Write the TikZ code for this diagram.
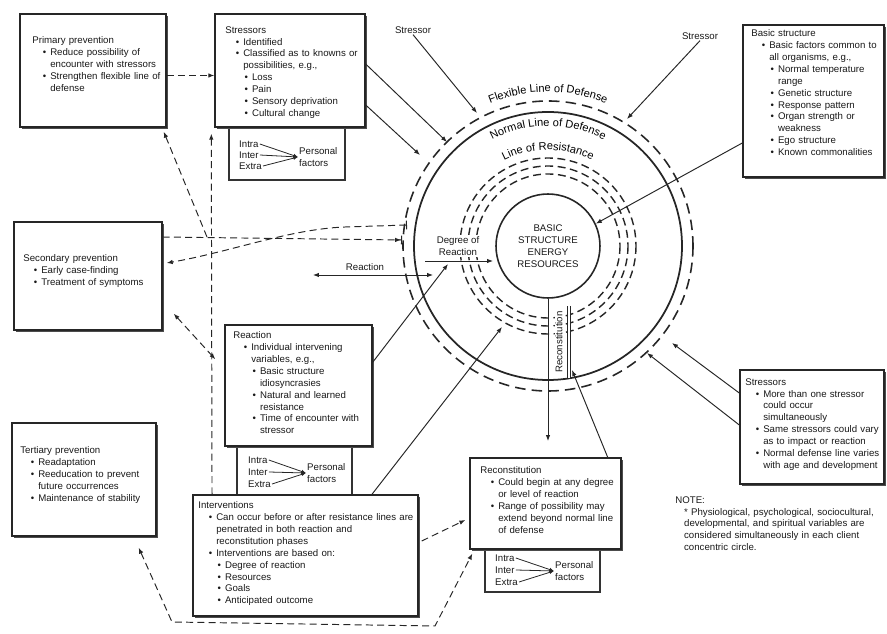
\documentclass[tikz,border=0pt]{standalone}
\usepackage{fontspec}
\setmainfont{Liberation Sans}
\usetikzlibrary{arrows.meta, shadows, fit, decorations.text}

\setlength{\parindent}{0pt}
\newcommand{\boxfont}{\fontsize{5.5}{6.8}\selectfont}
\newcommand{\ringfont}{\fontsize{6.3}{7}\selectfont}
\newcommand{\nextline}{\hfil\break}
\newcommand{\lvone}[1]{\par\leftskip=6pt\hangindent=4.2pt\hangafter=1\makebox[4.2pt][l]{\textbullet}#1}
\newcommand{\lvtwo}[1]{\par\leftskip=11pt\hangindent=4.2pt\hangafter=1\makebox[4.2pt][l]{\textbullet}#1}

\begin{document}
\begin{tikzpicture}[x=0.02cm, y=-0.02cm, >={Latex[length=3.4pt,width=2.6pt]},
  panel/.style={draw=black!85, line width=0.8pt, fill=white, inner sep=0pt, drop shadow={shadow xshift=1.4pt, shadow yshift=-1.4pt, fill=black!70, opacity=1}},
  factor panel/.style={draw=black!80, line width=0.7pt, fill=white, inner sep=0pt},
  box text/.style={anchor=north west, align=left, inner sep=0pt, text=black!90, font=\boxfont},
  tag/.style={inner sep=0.5pt, text=black!90, font=\boxfont},
  hit/.style={draw=black!85, line width=0.55pt, ->},
  flow/.style={hit, dash pattern=on 4pt off 2.4pt},
  factor arrow/.style={draw=black!85, line width=0.45pt, -{Latex[length=2.6pt,width=2pt]}},
  flexible ring/.style={draw=black!85, line width=0.9pt, dash pattern=on 6pt off 3.5pt},
  resistance ring/.style={draw=black!85, line width=0.8pt, dash pattern=on 4.5pt off 2.6pt},
  ring label/.style={decorate, decoration={text along path, text align=center, text={|\ringfont|#1}}}]
\useasboundingbox (0,0) rectangle (887,634);

% rings round the core
\coordinate (hub) at (548,246);
\draw[flexible ring] (hub) circle[radius=145];
\draw[draw=black!85, line width=1pt] (hub) circle[radius=134];
\foreach \r in {88,80,72}
  \draw[resistance ring] (hub) circle[radius=\r];
\node[circle, draw=black!85, line width=0.9pt, fill=white, minimum size=2.08cm, inner sep=0pt, align=center, font=\boxfont, text=black!90] (core) at (hub) {BASIC\\STRUCTURE\\ENERGY\\RESOURCES};

\path[ring label=Flexible Line of Defense] ([shift={(200:154)}]hub) arc[start angle=200, end angle=340, radius=154];
\path[ring label=Normal Line of Defense] ([shift={(205:120)}]hub) arc[start angle=205, end angle=335, radius=120];
\path[ring label=Line of Resistance] ([shift={(210:96)}]hub) arc[start angle=210, end angle=330, radius=96];

\node[tag, align=center, fill=white, inner sep=1pt] (degree) at (458,246) {Degree of\\Reaction};
\node[tag] (reaction tag) at (365,267) {Reaction};
\node[tag, rotate=90, fill=white] (recon label) at (559,342) {Reconstitution};
\draw[draw=black!85, line width=0.5pt, double distance=1.6pt] (569,306) -- (569,378);

\node[tag] (stressor a) at (413,30) {Stressor};
\node[tag] (stressor b) at (700,36) {Stressor};

% boxes
\node[panel, fit={(20,14) (166,127)}] (primary box) {};
\node[box text, text width=2.7cm] (primary text) at (32,36) {Primary prevention
\lvone{Reduce possibility of\nextline encounter with stressors}
\lvone{Strengthen flexible line of\nextline defense}\par};

\node[factor panel, fit={(229,120) (345,180)}] (stressor factors) {};
\node[panel, fit={(215,14) (365,127)}] (stressor box) {};
\node[box text, text width=2.8cm] (stressor text) at (225,26) {Stressors
\lvone{Identified}
\lvone{Classified as to knowns or\nextline possibilities, e.g.,}
\lvtwo{Loss}
\lvtwo{Pain}
\lvtwo{Sensory deprivation}
\lvtwo{Cultural change}\par};
\node[tag, anchor=west] (s intra) at (238,144) {Intra};
\node[tag, anchor=west] (s inter) at (238,155) {Inter};
\node[tag, anchor=west] (s extra) at (238,166) {Extra};
\node[tag, anchor=west, align=left] (s personal) at (298,157) {Personal\\factors};

\node[panel, fit={(743,25) (884,177)}] (basic box) {};
\node[box text, text width=2.6cm] (basic text) at (751,29) {Basic structure
\lvone{Basic factors common to\nextline all organisms, e.g.,}
\lvtwo{Normal temperature\nextline range}
\lvtwo{Genetic structure}
\lvtwo{Response pattern}
\lvtwo{Organ strength or\nextline weakness}
\lvtwo{Ego structure}
\lvtwo{Known commonalities}\par};

\node[panel, fit={(14,222) (162,330)}] (secondary box) {};
\node[box text, text width=2.7cm] (secondary text) at (23,254) {Secondary prevention
\lvone{Early case-finding}
\lvone{Treatment of symptoms}\par};

\node[factor panel, fit={(237,440) (352,496)}] (reaction factors) {};
\node[panel, fit={(225,325) (372,446)}] (reaction box) {};
\node[box text, text width=2.7cm] (reaction text) at (233,331) {Reaction
\lvone{Individual intervening\nextline variables, e.g.,}
\lvtwo{Basic structure\nextline idiosyncrasies}
\lvtwo{Natural and learned\nextline resistance}
\lvtwo{Time of encounter with\nextline stressor}\par};
\node[tag, anchor=west] (r intra) at (247,460) {Intra};
\node[tag, anchor=west] (r inter) at (247,472) {Inter};
\node[tag, anchor=west] (r extra) at (247,484) {Extra};
\node[tag, anchor=west, align=left] (r personal) at (306,473) {Personal\\factors};

\node[panel, fit={(12,423) (156,536)}] (tertiary box) {};
\node[box text, text width=2.7cm] (tertiary text) at (20,446) {Tertiary prevention
\lvone{Readaptation}
\lvone{Reeducation to prevent\nextline future occurrences}
\lvone{Maintenance of stability}\par};

\node[panel, fit={(193,495) (418,616)}] (interventions box) {};
\node[box text, text width=4.5cm] (interventions text) at (198,501) {Interventions
\lvone{Can occur before or after resistance lines are\nextline penetrated in both reaction and\nextline reconstitution phases}
\lvone{Interventions are based on:}
\lvtwo{Degree of reaction}
\lvtwo{Resources}
\lvtwo{Goals}
\lvtwo{Anticipated outcome}\par};

\node[factor panel, fit={(485,542) (600,592)}] (recon factors) {};
\node[panel, fit={(470,458) (621,549)}] (recon box) {};
\node[box text, text width=2.9cm] (recon text) at (480,466) {Reconstitution
\lvone{Could begin at any degree\nextline or level of reaction}
\lvone{Range of possibility may\nextline extend beyond normal line\nextline of defense}\par};
\node[tag, anchor=west] (c intra) at (494,558) {Intra};
\node[tag, anchor=west] (c inter) at (494,570) {Inter};
\node[tag, anchor=west] (c extra) at (494,582) {Extra};
\node[tag, anchor=west, align=left] (c personal) at (554,571) {Personal\\factors};

\node[panel, fit={(740,370) (884,484)}] (stressors box) {};
\node[box text, text width=2.8cm] (stressors text) at (745,378) {Stressors
\lvone{More than one stressor\nextline could occur\nextline simultaneously}
\lvone{Same stressors could vary\nextline as to impact or reaction}
\lvone{Normal defense line varies\nextline with age and development}\par};

\node[box text, text width=4.4cm] (note) at (675,496) {NOTE:\par\leftskip=5pt
* Physiological, psychological, sociocultural,\nextline developmental, and spiritual variables are\nextline considered simultaneously in each client\nextline concentric circle.\par};

% personal factors
\foreach \p in {s,r,c}
  \foreach \f in {intra,inter,extra}
    \draw[factor arrow] (\p\space\f.east) -- (\p\space personal.west);

% stressors hitting the lines
\coordinate (flex hit a) at (447,142);
\coordinate (flex hit b) at (420,155);
\coordinate (flex hit c) at (477,113);
\coordinate (flex hit d) at (627,119);
\coordinate (flex hit e) at (672,343);
\coordinate (flex hit f) at (647,353);
\draw[hit] ([yshift=0.13cm]stressor box.east) -- (flex hit a);
\draw[hit] ([yshift=-0.69cm]stressor box.east) -- (flex hit b);
\draw[hit] (stressor a.south) -- (flex hit c);
\draw[hit] (stressor b.south) -- (flex hit d);
\draw[hit] ([yshift=0.68cm]stressors box.west) -- (flex hit e);
\draw[hit] ([yshift=0.04cm]stressors box.west) -- (flex hit f);
\draw[hit] ([yshift=-0.84cm]basic box.west) -- (core.25);

% reaction and reconstitution
\coordinate (degree start) at (425,261);
\coordinate (degree tip) at (493,261);
\coordinate (degree hit) at (448,264);
\coordinate (reaction in) at (433,275);
\coordinate (reaction out) at (313,275);
\coordinate (resist hit) at (502,327);
\coordinate (drop tip) at (548,441);
\coordinate (recon tip) at (572,370);
\draw[hit] (degree start) -- (degree tip);
\draw[hit, <->] (reaction out) -- (reaction in);
\draw[hit] ([yshift=-0.76cm]reaction box.north east) -- (degree hit);
\draw[hit] ([xshift=1.33cm]interventions box.north) -- (resist hit);
\draw[hit] (core.south) -- (drop tip);
\draw[hit] ([xshift=-0.28cm]recon box.north east) -- (recon tip);

% prevention feedback
\coordinate (normal bar a) at (402,240);
\coordinate (normal bar b) at (407,225);
\coordinate (feedback bend) at (345,227);
\coordinate (primary join) at (207,237);
\coordinate (bottom bend a) at (172,622);
\coordinate (bottom bend b) at (435,626);
\draw[flow] ([yshift=-0.1cm]primary box.east) -- ([yshift=-0.1cm]stressor box.west);
\draw[flow, -{Latex[length=3.4pt,width=2.6pt] Bar[width=5pt]}] ([yshift=0.78cm]secondary box.east) -- (normal bar a);
\draw[flow, {Bar[width=5pt]}-{Latex[length=3.4pt,width=2.6pt]}] (normal bar b) -- (feedback bend) .. controls (290,229) and (230,252) .. ([shift={(0.08cm,0.26cm)}]secondary box.east);
\draw[flow] (primary join) -- ([shift={(-0.06cm,-0.08cm)}]primary box.south east);
\draw[flow, <->] ([shift={(0.22cm,0.34cm)}]secondary box.south east) -- ([shift={(-0.18cm,-0.7cm)}]reaction box.north west);
\draw[flow] ([xshift=-1.87cm]interventions box.north) -- ([shift={(-0.06cm,-0.12cm)}]stressor box.south west);
\draw[flow] ([shift={(0.06cm,0.29cm)}]interventions box.east) -- ([shift={(-0.08cm,-0.33cm)}]recon box.west);
\draw[flow, <->] ([shift={(-0.36cm,-0.22cm)}]tertiary box.south east) -- (bottom bend a) -- (bottom bend b) -- ([shift={(0.06cm,-0.08cm)}]recon box.south west);
\end{tikzpicture}
\end{document}
